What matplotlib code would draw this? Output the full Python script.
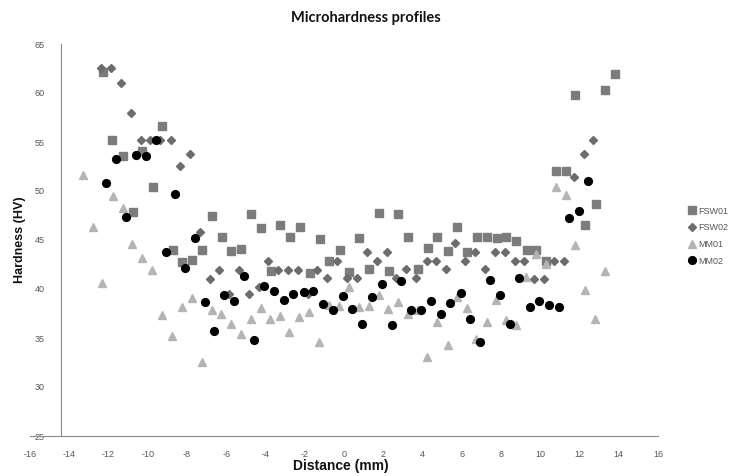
import matplotlib
matplotlib.use('Agg')
import matplotlib.pyplot as plt

plt.rcParams['axes.unicode_minus'] = False

# ---- data ----
fsw01_x = [-12.28, -11.8, -11.26, -10.73, -10.27, -9.73, -9.27, -8.71, -8.23, -7.74,
           -7.23, -6.75, -6.24, -5.77, -5.26, -4.73, -4.25, -3.74, -3.25, -2.74,
           -2.24, -1.73, -1.22, -0.75, -0.22, 0.27, 0.78, 1.26, 1.79, 2.3,
           2.77, 3.28, 3.79, 4.27, 4.76, 5.29, 5.78, 6.26, 6.8, 7.28,
           7.79, 8.27, 8.78, 9.32, 9.8, 10.31, 10.78, 11.29, 11.79, 12.3,
           12.82, 13.3, 13.83]
fsw01_y = [62.1, 55.2, 53.6, 47.9, 54.1, 50.4, 56.6, 44.0, 42.8, 43.0,
           44.0, 47.4, 45.3, 43.9, 44.1, 47.7, 46.2, 41.8, 46.5, 45.3,
           46.3, 41.6, 45.1, 42.9, 44.0, 41.7, 45.2, 42.0, 47.8, 41.8,
           47.7, 45.3, 42.0, 44.2, 45.3, 43.9, 46.3, 43.8, 45.3, 45.3,
           45.2, 45.3, 44.9, 44.0, 44.0, 42.9, 52.0, 52.0, 59.8, 46.5,
           48.7, 60.3, 61.9]

fsw02_x = [-12.36, -11.85, -11.34, -10.87, -10.36, -9.9, -9.39, -8.83, -8.35, -7.86,
           -7.35, -6.84, -6.36, -5.85, -5.34, -4.85, -4.32, -3.86, -3.35, -2.87,
           -2.36, -1.85, -1.36, -0.85, -0.34, 0.14, 0.65, 1.16, 1.7, 2.18,
           2.65, 3.16, 3.67, 4.22, 4.69, 5.2, 5.68, 6.19, 6.68, 7.19,
           7.7, 8.18, 8.69, 9.18, 9.69, 10.19, 10.68, 11.22, 11.7, 12.21,
           12.69]
fsw02_y = [62.6, 62.6, 61.0, 58.0, 55.2, 55.2, 55.2, 55.2, 52.6, 53.8,
           45.8, 41.0, 41.9, 39.5, 41.9, 39.5, 40.2, 42.9, 41.9, 41.9,
           41.9, 39.5, 41.9, 41.1, 42.9, 41.1, 41.1, 43.8, 42.9, 43.8,
           41.1, 42.0, 41.1, 42.9, 42.9, 42.0, 44.7, 42.9, 43.8, 42.0,
           43.8, 43.8, 42.9, 42.9, 41.0, 41.0, 42.9, 42.9, 51.4, 53.8,
           55.2]

mm01_x = [-13.3, -12.79, -12.31, -11.77, -11.26, -10.78, -10.27, -9.78, -9.27, -8.78,
          -8.27, -7.76, -7.26, -6.75, -6.28, -5.77, -5.27, -4.76, -4.25, -3.78,
          -3.27, -2.79, -2.28, -1.79, -1.28, -0.75, -0.26, 0.26, 0.77, 1.28,
          1.79, 2.26, 2.77, 3.25, 3.76, 4.25, 4.76, 5.29, 5.78, 6.26,
          6.73, 7.28, 7.76, 8.27, 8.78, 9.29, 9.8, 10.27, 10.78, 11.29,
          11.79, 12.3, 12.79, 13.3]
mm01_y = [51.6, 46.3, 40.6, 49.5, 48.3, 44.6, 43.2, 41.9, 37.3, 35.2,
          38.2, 39.1, 32.6, 37.9, 37.5, 36.4, 35.4, 36.9, 38.1, 36.9,
          37.2, 35.6, 37.1, 37.7, 34.6, 38.4, 38.3, 40.2, 38.2, 38.3,
          39.4, 38.0, 38.7, 37.4, 37.9, 33.1, 36.6, 34.3, 39.2, 38.1,
          34.9, 36.6, 38.9, 36.8, 36.3, 41.2, 43.6, 42.6, 50.4, 49.6,
          44.5, 39.9, 36.9, 41.8]

mm02_x = [-12.11, -11.6, -11.09, -10.58, -10.1, -9.59, -9.08, -8.6, -8.08, -7.6,
          -7.09, -6.62, -6.1, -5.6, -5.09, -4.58, -4.08, -3.57, -3.08, -2.59,
          -2.06, -1.56, -1.05, -0.58, -0.07, 0.43, 0.94, 1.45, 1.92, 2.43,
          2.91, 3.42, 3.91, 4.42, 4.95, 5.42, 5.95, 6.43, 6.94, 7.45,
          7.96, 8.47, 8.94, 9.46, 9.95, 10.46, 10.95, 11.46, 11.97, 12.43]
mm02_y = [50.8, 53.3, 47.3, 53.7, 53.6, 55.2, 43.8, 49.7, 42.1, 45.2,
          38.7, 35.7, 39.4, 38.8, 41.3, 34.8, 40.3, 39.8, 38.9, 39.5,
          39.7, 39.8, 38.5, 37.9, 39.3, 38.0, 36.4, 39.2, 40.5, 36.3,
          40.8, 37.9, 37.9, 38.8, 37.4, 38.6, 39.6, 36.9, 34.6, 40.9,
          39.4, 36.4, 41.1, 38.2, 38.8, 38.4, 38.2, 47.2, 48.0, 51.0]

series_labels = ['FSW01', 'FSW02', 'MM01', 'MM02']
x_ticks = list(range(-16, 17, 2))
y_ticks = list(range(25, 66, 5))

# ---- figure ----
W, H = 733, 476
fig = plt.figure(figsize=(W / 100, H / 100), dpi=100)
ax = fig.add_axes([30 / W, 1 - 436 / H, (658 - 30) / W, (436 - 44) / H])

ax.plot(fsw01_x, fsw01_y, ls='none', marker='s', ms=5.2, color='#7c7c7c',
        mec='#7c7c7c', label=series_labels[0], zorder=3)
ax.plot(fsw02_x, fsw02_y, ls='none', marker='D', ms=3.6, color='#6c6c6c',
        mec='#6c6c6c', label=series_labels[1], zorder=3)
ax.plot(mm01_x, mm01_y, ls='none', marker='^', ms=5.6, color='#b4b4b4',
        mec='#b4b4b4', label=series_labels[2], zorder=3)
ax.plot(mm02_x, mm02_y, ls='none', marker='o', ms=5.6, color='#000000',
        mec='#000000', label=series_labels[3], zorder=4)

ax.set_xlim(-16, 16)
ax.set_ylim(25, 65)
ax.set_xticks(x_ticks)
ax.set_yticks(y_ticks)

for s in ['top', 'right']:
    ax.spines[s].set_visible(False)
ax.spines['left'].set_position(('data', -14.4))
ax.spines['left'].set_color('#8c8c8c')
ax.spines['bottom'].set_color('#8c8c8c')
ax.spines['left'].set_linewidth(0.8)
ax.spines['bottom'].set_linewidth(0.8)

ax.tick_params(axis='both', length=0, colors='#555555', labelsize=6.5)
ax.tick_params(axis='y', pad=12)
ax.tick_params(axis='x', pad=10)
for lab in ax.get_xticklabels() + ax.get_yticklabels():
    lab.set_fontfamily(['Liberation Sans', 'DejaVu Sans'])

fig.text(366 / W, 1 - 18 / H, 'Microhardness profiles', ha='center', va='center',
         fontsize=10.5, fontweight='bold', family=['Lato', 'DejaVu Sans'], color='#111111')
fig.text(20 / W, 1 - 240 / H, 'Hardness (HV)', ha='center', va='center', rotation=90,
         fontsize=9, fontweight='bold', family=['Liberation Sans', 'DejaVu Sans'], color='#111111')
fig.text(341 / W, 1 - 466 / H, 'Distance (mm)', ha='center', va='center',
         fontsize=10, fontweight='bold', family=['Liberation Sans', 'DejaVu Sans'], color='#111111')

leg = fig.legend(loc='upper left', bbox_to_anchor=(684 / W, 1 - 203 / H), frameon=False,
                 handletextpad=0.2, labelspacing=0.85, handlelength=1.0,
                 borderaxespad=0, prop={'family': ['Liberation Sans', 'DejaVu Sans'], 'size': 6.5})
for t in leg.get_texts():
    t.set_color('#555555')

fig.savefig('out.png', dpi=100)
